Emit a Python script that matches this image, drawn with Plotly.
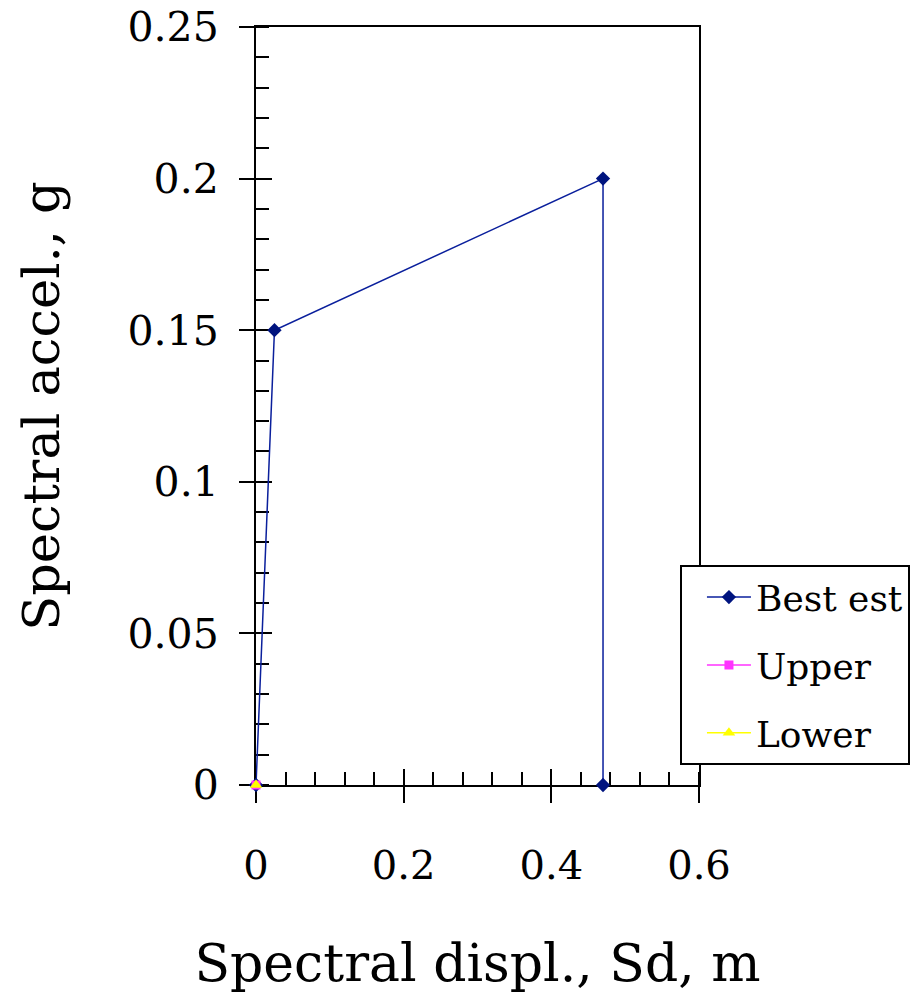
import plotly.graph_objects as go

# Capacity curve data (spectral displacement in m, spectral acceleration in g)
best_sd = [0.0, 0.025, 0.47, 0.47]
best_sa = [0.0, 0.15, 0.2, 0.0]
upper_sd = [0.0]
upper_sa = [0.0]
lower_sd = [0.0]
lower_sa = [0.0]

x_tick_vals = [0, 0.2, 0.4, 0.6]
x_tick_text = ["0", "0.2", "0.4", "0.6"]
y_tick_vals = [0, 0.05, 0.1, 0.15, 0.2, 0.25]
y_tick_text = ["0", "0.05", "0.1", "0.15", "0.2", "0.25"]

FONT = "Palatino Linotype, Book Antiqua, Palatino, DejaVu Serif, serif"

fig = go.Figure()
fig.add_trace(go.Scatter(
    x=best_sd, y=best_sa, name="Best est", mode="lines+markers",
    line=dict(color="#0a1f9c", width=1.5),
    marker=dict(symbol="diamond", size=11, color="#00147f"),
    legendgroup="a", cliponaxis=False,
))
fig.add_trace(go.Scatter(
    x=upper_sd, y=upper_sa, name="Upper", mode="lines+markers",
    line=dict(color="#ff33ff", width=1.5),
    marker=dict(symbol="square", size=9, color="#ff33ff"),
    legendgroup="b", cliponaxis=False,
))
fig.add_trace(go.Scatter(
    x=lower_sd, y=lower_sa, name="Lower", mode="lines+markers",
    line=dict(color="#ffff00", width=1.5),
    marker=dict(symbol="triangle-up", size=11, color="#ffff00"),
    legendgroup="c", cliponaxis=False,
))

# secondary axes only carry the inward half of the major ticks
fig.add_trace(go.Scatter(x=[None], y=[None], xaxis="x2", yaxis="y2",
                         showlegend=False, hoverinfo="skip"))

x_range = [0, 0.6]
y_range = [0, 0.25]

fig.update_layout(
    width=916, height=1006,
    margin=dict(l=256, r=217, t=27, b=221, autoexpand=False),
    paper_bgcolor="white", plot_bgcolor="white",
    font=dict(family=FONT, color="black", size=40),
    xaxis=dict(
        range=x_range, tickvals=x_tick_vals, ticktext=x_tick_text,
        showgrid=False, zeroline=False, layer="below traces",
        showline=True, linecolor="black", linewidth=2, mirror=True,
        ticks="outside", ticklen=16, tickwidth=2, tickcolor="black",
        ticklabelstandoff=28,
        tickfont=dict(size=40),
        minor=dict(dtick=0.04, tick0=0, ticks="inside", ticklen=13,
                   tickwidth=2, tickcolor="black", showgrid=False),
        title=dict(text="Spectral displ., Sd, m", font=dict(size=52), standoff=58),
    ),
    yaxis=dict(
        range=y_range, tickvals=y_tick_vals, ticktext=y_tick_text,
        showgrid=False, zeroline=False, layer="below traces",
        showline=True, linecolor="black", linewidth=2, mirror=True,
        ticks="outside", ticklen=15, tickwidth=2, tickcolor="black",
        ticklabelstandoff=12,
        tickfont=dict(size=41),
        minor=dict(dtick=0.01, tick0=0, ticks="inside", ticklen=13,
                   tickwidth=2, tickcolor="black", showgrid=False),
        title=dict(text="Spectral accel., g", font=dict(size=51), standoff=52),
    ),
    xaxis2=dict(
        range=x_range, overlaying="x", anchor="y2", side="bottom",
        tickvals=x_tick_vals, showticklabels=False, showgrid=False,
        zeroline=False, showline=False, layer="below traces",
        ticks="inside", ticklen=16, tickwidth=2, tickcolor="black",
    ),
    yaxis2=dict(
        range=y_range, overlaying="y", anchor="x2", side="left",
        tickvals=y_tick_vals, showticklabels=False, showgrid=False,
        zeroline=False, showline=False, layer="below traces",
        ticks="inside", ticklen=16, tickwidth=2, tickcolor="black",
    ),
    legend=dict(
        x=0.957, y=0.29, xanchor="left", yanchor="top",
        bordercolor="black", borderwidth=2, bgcolor="white",
        font=dict(size=36), traceorder="grouped", tracegroupgap=18,
        itemwidth=44, indentation=20,
    ),
    showlegend=True,
)

fig.write_html("out.html")
